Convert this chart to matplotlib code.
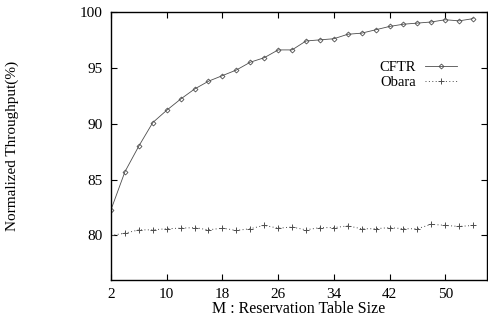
import matplotlib
matplotlib.use("Agg")
import matplotlib.pyplot as plt

M = [2, 4, 6, 8, 10, 12, 14, 16, 18, 20, 22, 24, 26, 28, 30, 32, 34, 36, 38,
     40, 42, 44, 46, 48, 50, 52, 54]
cftr = [82.3, 85.7, 88.0, 90.1, 91.2, 92.2, 93.1, 93.8, 94.3, 94.8, 95.5, 95.9,
        96.6, 96.6, 97.4, 97.5, 97.6, 98.0, 98.1, 98.4, 98.7, 98.9, 99.0, 99.1,
        99.3, 99.2, 99.4]
obara = [80.0, 80.2, 80.5, 80.5, 80.6, 80.65, 80.7, 80.5, 80.65, 80.45, 80.6,
         80.9, 80.65, 80.75, 80.5, 80.7, 80.7, 80.85, 80.6, 80.6, 80.7, 80.6,
         80.6, 81.0, 80.9, 80.8, 80.9]
xticks = [2, 10, 18, 26, 34, 42, 50]
yticks = [80, 85, 90, 95, 100]

plt.rcParams["font.family"] = ["Liberation Serif", "DejaVu Serif"]

fig = plt.figure(figsize=(4.89, 3.22), dpi=100)
ax = fig.add_axes([0.227, 0.130, 0.769, 0.833])

ax.plot(M, cftr, color="0.3", linewidth=0.6, marker="D", markersize=2.5,
        markerfacecolor="none", markeredgewidth=0.6, label="CFTR")
ax.plot(M, obara, color="0.3", linewidth=0.7, linestyle=(0, (1, 2.5)),
        marker="+", markersize=4, markeredgewidth=0.7, label="Obara")

ax.set_xlim(2, 56)
ax.set_ylim(76, 100)
ax.set_xticks(xticks)
ax.set_yticks(yticks)
ax.tick_params(direction="in", top=True, right=True, length=4, width=0.8,
               labelsize=11, pad=6)
for s in ax.spines.values():
    s.set_linewidth(1.0)

ax.set_xlabel("M : Reservation Table Size", fontsize=11.5, labelpad=0)
ax.set_ylabel("Normalized Throughput(%)", fontsize=11, labelpad=44)

ax.legend(loc="upper right", bbox_to_anchor=(0.955, 0.865), frameon=False,
          fontsize=10.5, handlelength=2.2, handletextpad=0.6,
          labelspacing=0.1, markerfirst=False)

fig.savefig("out.png", dpi=100)
